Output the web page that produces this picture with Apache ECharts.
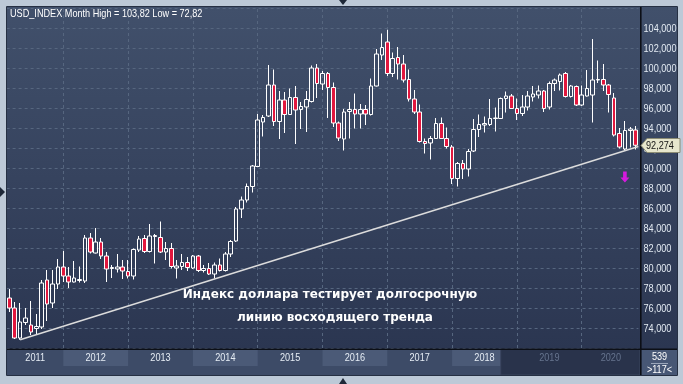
<!DOCTYPE html>
<html><head><meta charset="utf-8">
<script src="https://cdn.jsdelivr.net/npm/echarts@6/dist/echarts.min.js"></script>
<style>html,body{margin:0;padding:0;background:#bdc9d7;overflow:hidden}#c{width:683px;height:384px}</style>
</head><body><div id="c"></div>
<script>
// ---- data ----
const categories = [
 '2011-03','2011-04','2011-05','2011-06','2011-07','2011-08','2011-09','2011-10','2011-11','2011-12',
 '2012-01','2012-02','2012-03','2012-04','2012-05','2012-06','2012-07','2012-08','2012-09','2012-10','2012-11','2012-12',
 '2013-01','2013-02','2013-03','2013-04','2013-05','2013-06','2013-07','2013-08','2013-09','2013-10','2013-11','2013-12',
 '2014-01','2014-02','2014-03','2014-04','2014-05','2014-06','2014-07','2014-08','2014-09','2014-10','2014-11','2014-12',
 '2015-01','2015-02','2015-03','2015-04','2015-05','2015-06','2015-07','2015-08','2015-09','2015-10','2015-11','2015-12',
 '2016-01','2016-02','2016-03','2016-04','2016-05','2016-06','2016-07','2016-08','2016-09','2016-10','2016-11','2016-12',
 '2017-01','2017-02','2017-03','2017-04','2017-05','2017-06','2017-07','2017-08','2017-09','2017-10','2017-11','2017-12',
 '2018-01','2018-02','2018-03','2018-04','2018-05','2018-06','2018-07','2018-08','2018-09','2018-10','2018-11','2018-12',
 '2019-01','2019-02','2019-03','2019-04','2019-05','2019-06','2019-07','2019-08','2019-09','2019-10','2019-11','2019-12',
 '2020-01','2020-02','2020-03','2020-04','2020-05','2020-06','2020-07','2020-08','2020-09','2020-10','2020-11'
];
const opens = [
 77.0, 76.0, 73.0, 74.55, 74.3, 73.95, 74.1, 78.8, 76.5, 78.4,
 80.1, 79.2, 78.6, 78.75, 78.7, 83.0, 81.5, 82.6, 81.2, 79.95, 79.9, 80.1,
 79.65, 79.2, 81.8, 82.95, 81.65, 83.15, 83.05, 81.6, 81.95, 80.0, 80.15, 80.55,
 80.0, 81.2, 79.75, 79.95, 79.4, 80.3, 79.75, 81.4, 82.7, 85.9, 86.8, 88.15,
 90.15, 94.6, 95.2, 98.3, 94.65, 96.8, 95.35, 97.05, 95.85, 96.1, 96.65, 100.0,
 98.4, 99.45, 98.05, 94.5, 92.9, 95.65, 95.85, 95.4, 95.85, 95.35, 98.2, 101.3,
 102.6, 99.45, 101.05, 100.4, 98.85, 96.9, 95.6, 92.65, 92.5, 92.95, 94.45, 92.95,
 92.1, 88.95, 90.45, 89.9, 91.7, 93.85, 94.3, 94.35, 94.95, 94.95, 96.95, 97.2,
 95.95, 95.45, 96.1, 97.1, 97.3, 97.7, 96.1, 98.45, 98.65, 99.45, 97.15, 98.15,
 96.3, 97.2, 97.3, 98.8, 98.85, 98.3, 97.0, 93.45, 91.9, 93.75, 93.8
];
const closes = [
 76.0, 73.0, 74.6, 75.0, 73.6, 74.15, 78.5, 76.4, 78.4, 80.1,
 79.2, 78.6, 79.0, 78.85, 83.0, 81.6, 82.6, 81.2, 79.9, 80.05, 80.1, 79.7,
 79.2, 81.85, 82.9, 81.65, 83.2, 83.25, 81.6, 81.95, 80.15, 80.2, 80.55, 80.05,
 81.2, 79.75, 79.95, 79.4, 80.3, 79.75, 81.4, 82.65, 85.9, 86.8, 88.15, 90.2,
 94.8, 95.05, 98.3, 94.65, 96.8, 95.35, 97.05, 95.8, 96.15, 96.85, 100.0, 98.45,
 99.45, 98.05, 94.5, 93.0, 95.6, 95.85, 95.4, 95.85, 95.4, 98.2, 101.4, 102.05,
 99.45, 100.95, 100.4, 98.8, 96.9, 95.6, 92.65, 92.45, 92.95, 94.45, 92.95, 92.15,
 88.95, 90.45, 89.9, 91.65, 93.85, 94.35, 94.45, 94.95, 95.0, 96.95, 97.2, 95.95,
 95.45, 96.1, 97.2, 97.4, 97.7, 95.95, 98.45, 98.8, 99.3, 97.15, 98.2, 96.3,
 97.3, 97.95, 98.8, 98.85, 98.3, 97.35, 93.3, 92.1, 93.75, 93.9, 92.274
];
const highs = [
 77.9, 76.6, 76.5, 76.0, 76.7, 75.4, 78.8, 79.8, 79.8, 80.9,
 81.7, 80.1, 80.7, 80.15, 83.3, 83.5, 84.0, 83.0, 81.6, 80.3, 81.4, 80.8,
 80.8, 81.95, 83.2, 83.3, 84.4, 83.4, 84.65, 82.6, 82.5, 80.8, 81.4, 81.1,
 81.3, 81.3, 80.3, 80.5, 80.55, 80.95, 81.6, 82.8, 86.1, 87.15, 88.45, 90.3,
 95.4, 95.3, 100.3, 99.85, 97.7, 97.6, 97.95, 98.2, 96.6, 97.7, 100.25, 100.4,
 99.7, 99.6, 98.55, 94.65, 95.9, 96.6, 97.45, 96.4, 96.3, 98.95, 101.9, 103.45,
 103.82, 101.55, 102.1, 101.3, 99.85, 97.8, 96.35, 92.95, 93.2, 95.0, 95.05, 94.05,
 92.3, 90.6, 90.8, 91.9, 94.9, 95.35, 95.15, 96.9, 96.05, 97.05, 97.65, 97.4,
 96.95, 97.3, 97.7, 98.2, 98.25, 97.8, 98.65, 98.95, 99.45, 99.6, 98.3, 98.25,
 98.25, 99.8, 102.9, 100.75, 100.4, 98.4, 97.5, 94.0, 94.7, 94.1, 94.2
];
const lows = [
 75.6, 72.9, 72.82, 74.3, 73.3, 73.3, 73.9, 74.7, 76.0, 77.9,
 78.6, 78.0, 78.55, 78.55, 78.5, 81.45, 81.45, 80.9, 78.6, 79.0, 79.55, 78.9,
 78.95, 78.85, 81.6, 81.5, 81.55, 80.45, 81.5, 80.8, 79.95, 78.95, 79.8, 79.7,
 79.9, 79.6, 79.55, 79.3, 78.95, 79.65, 79.65, 81.1, 82.6, 85.0, 86.55, 87.55,
 90.1, 93.15, 95.1, 94.2, 92.9, 93.5, 95.3, 92.4, 93.9, 93.6, 96.55, 97.0,
 97.8, 95.0, 94.1, 92.7, 91.75, 92.95, 93.95, 93.95, 94.3, 95.25, 98.15, 100.8,
 99.2, 99.1, 98.85, 98.55, 96.65, 95.4, 92.55, 91.45, 90.85, 92.9, 92.9, 91.95,
 88.4, 88.15, 88.9, 89.15, 91.6, 93.1, 93.55, 94.2, 93.65, 94.9, 95.55, 95.9,
 94.8, 95.2, 95.75, 96.65, 96.95, 95.6, 95.85, 97.7, 97.75, 97.05, 97.05, 96.2,
 96.2, 97.15, 94.55, 98.5, 97.7, 95.55, 93.15, 91.95, 91.75, 92.05, 91.85
];
// trend line: bar index (0 = first category) and value
const trendX = [2, 116.5];
const trendY = [72.82, 92.15];
// signal arrow
const signalMonth = ['2020-09'];
const signalValue = [89.1];
const yTicks = [74, 76, 78, 80, 82, 84, 86, 88, 90, 92, 94, 96, 98, 100, 102, 104];
const yearLabels = ['2011','2012','2013','2014','2015','2016','2017','2018','2019','2020'];
const yearStarts = ['2011-01','2012-01','2013-01','2014-01','2015-01','2016-01','2017-01','2018-01','2019-01','2020-01'];
const dimFrom = '2018-10';
const lastPrice = 92.274;
const titleText = 'USD_INDEX Month High = 103,82 Low = 72,82';
const noteLines = ['Индекс доллара тестирует долгосрочную', 'линию восходящего тренда'];
const barsTotal = '539';
const barsVisible = '>117<';

// ---- chart ----
const SANS = "'Liberation Sans',Arial,sans-serif";
const SQUEEZE = 0.83;
const chart = echarts.init(document.getElementById('c'), null, {renderer: 'canvas'});
const gridLeft = 6.6, gridRight = 683 - 638.4, gridTop = 8, gridBottom = 384 - 348;

const option = {
  animation: false,
  backgroundColor: 'transparent',
  grid: {left: gridLeft, right: gridRight, top: gridTop, bottom: gridBottom, containLabel: false},
  xAxis: [
    {type: 'category', data: categories, boundaryGap: true, show: false},
    {type: 'value', min: -0.5, max: categories.length - 0.5, show: false}
  ],
  yAxis: {
    type: 'value', position: 'right', min: 72, max: 106, interval: 2,
    axisLine: {show: false}, axisTick: {show: false}, axisLabel: {show: false},
    splitLine: {show: true, lineStyle: {color: '#56667f', type: [3, 3], width: 1}}
  },
  series: [
    {
      type: 'candlestick',
      data: categories.map((c, i) => [opens[i], closes[i], lows[i], highs[i]]),
      barWidth: 4,
      z: 3,
      itemStyle: {
        color: 'rgba(0,0,0,0)', color0: '#e1173e',
        borderColor: '#ffffff', borderColor0: '#ffffff', borderWidth: 1
      },
      markLine: {
        silent: true, symbol: 'none', z: 1, animation: false,
        label: {show: false},
        lineStyle: {color: '#56667f', type: [3, 3], width: 1},
        data: yearStarts.slice(1).map(m => ({xAxis: m}))
      }
    },
    {
      type: 'line', xAxisIndex: 1, z: 4,
      data: trendX.map((x, i) => [x, trendY[i]]),
      symbol: 'none', silent: true,
      lineStyle: {color: '#dcdcdc', width: 1.5}
    },
    {
      type: 'scatter', z: 5, silent: true,
      data: signalMonth.map((m, i) => [m, signalValue[i]]),
      symbol: 'path://M3,0 L7,0 L7,6 L10,6 L5,11 L0,6 L3,6 Z',
      symbolSize: [9, 11],
      itemStyle: {color: '#ff10ff'}
    }
  ]
};
chart.setOption(option);

// ---- frame, axis strip and labels placed with the chart's own scales ----
const xOf = c => chart.convertToPixel({xAxisIndex: 0}, c);
const yOf = v => chart.convertToPixel({yAxisIndex: 0}, v);
const PANEL_L = 7, PANEL_T = 7, PANEL_R = 677, PLOT_B = 349, STRIP_B = 375, AXIS_X = 640;
const g = [];
function narrowText(txt, x, y, align, fill, z, size) {
  return {type: 'text', z: z, silent: true, x: x, y: y, scaleX: SQUEEZE,
    style: {text: txt, x: 0, y: 0, align: align, verticalAlign: 'middle', fill: fill,
      fontSize: size || 11, fontFamily: SANS}};
}
// dark panel
g.push({type: 'rect', z: -100, silent: true,
  shape: {x: PANEL_L, y: PANEL_T, width: PANEL_R - PANEL_L, height: PLOT_B - PANEL_T},
  style: {fill: new echarts.graphic.LinearGradient(0, 0, 0, 1, [
    {offset: 0, color: '#41506b'}, {offset: 1, color: '#2b3651'}])}});
// title
g.push(narrowText(titleText, 10, 13.5, 'left', '#ffffff', 45));
// y tick labels
yTicks.forEach(v => g.push(narrowText(v.toFixed(3).replace('.', ','), 643.5, Math.round(yOf(v)) + 0.5, 'left', '#e4ebf3', 45)));
// bottom strip
g.push({type: 'rect', z: 50, silent: true,
  shape: {x: PANEL_L, y: PLOT_B, width: AXIS_X - PANEL_L, height: STRIP_B - PLOT_B},
  style: {fill: '#3d4b67'}});
const monthW = xOf(categories[1]) - xOf(categories[0]);
const firstX = xOf(categories[0]) - 2 * monthW; // Jan 2011 centre
const bands = yearLabels.map((y, i) => {
  let s = i === 0 ? firstX : xOf(yearStarts[i]);
  let e = i < yearLabels.length - 1 ? xOf(yearStarts[i + 1]) : AXIS_X;
  return {y, s, e};
});
const dimX = xOf(dimFrom);
bands.forEach((b, i) => {
  const s = Math.max(b.s, PANEL_L), e = Math.min(b.e, AXIS_X);
  if (i % 2 === 1) {
    g.push({type: 'rect', z: 51, silent: true,
      shape: {x: s, y: 350, width: e - s, height: 16}, style: {fill: '#4b5a77'}});
  }
});
g.push({type: 'rect', z: 52, silent: true,
  shape: {x: dimX, y: PLOT_B, width: AXIS_X - dimX, height: STRIP_B - PLOT_B},
  style: {fill: '#29334b', stroke: '#3a465f', lineWidth: 1}});
bands.forEach(b => {
  const s = Math.max(b.s, PANEL_L), e = Math.min(b.e, AXIS_X);
  const dim = s >= dimX;
  g.push(narrowText(b.y, (s + e) / 2, 357.5, 'center', dim ? '#66748e' : '#e6edf5', 53));
});
// right bottom box
g.push({type: 'rect', z: 50, silent: true,
  shape: {x: AXIS_X, y: PLOT_B, width: PANEL_R - AXIS_X, height: STRIP_B - PLOT_B},
  style: {fill: '#475775'}});
g.push(narrowText(barsTotal, 659.5, 357, 'center', '#ffffff', 53));
g.push({type: 'line', z: 53, silent: true,
  shape: {x1: 651, y1: 363.5, x2: 668, y2: 363.5}, style: {stroke: '#9aa6ba', lineWidth: 1}});
g.push(narrowText(barsVisible, 659.5, 369.5, 'center', '#ffffff', 53));
// black separators
g.push({type: 'rect', z: 60, silent: true, shape: {x: PANEL_L, y: 348.5, width: PANEL_R - PANEL_L, height: 1.5}, style: {fill: '#0c0f16'}});
g.push({type: 'rect', z: 60, silent: true, shape: {x: AXIS_X, y: PANEL_T, width: 1.6, height: STRIP_B - PANEL_T}, style: {fill: '#0c0f16'}});
// panel outline and outer frame masks
g.push({type: 'rect', z: 70, silent: true, shape: {x: 0, y: 0, width: PANEL_L, height: 384}, style: {fill: '#bdc9d7'}});
g.push({type: 'rect', z: 70, silent: true, shape: {x: PANEL_L - 0.5, y: PANEL_T - 0.5, width: PANEL_R - PANEL_L + 1, height: STRIP_B - PANEL_T + 1},
  style: {fill: null, stroke: '#263043', lineWidth: 1}});
// frame arrows
g.push({type: 'polygon', z: 70, silent: true, shape: {points: [[339, 0], [347, 0], [343, 5]]}, style: {fill: '#1e2838'}});
g.push({type: 'polygon', z: 70, silent: true, shape: {points: [[339, 384], [347, 384], [343, 378]]}, style: {fill: '#1e2838'}});
g.push({type: 'polygon', z: 70, silent: true, shape: {points: [[0, 187], [0, 197], [5, 192]]}, style: {fill: '#1e2838'}});
// last price tag
const py = Math.round(yOf(lastPrice)) + 0.5;
g.push({type: 'polygon', z: 80, silent: true,
  shape: {points: [[641, py], [647, py - 7], [680, py - 7], [680, py + 7], [647, py + 7]]},
  style: {fill: '#e6e6cd', stroke: '#8c8c74', lineWidth: 1}});
g.push(narrowText(lastPrice.toFixed(3).replace('.', ','), 646, py, 'left', '#141414', 81));
// annotation
g.push({type: 'text', z: 40, silent: true,
  style: {text: noteLines[0], x: 330, y: 295, align: 'center', verticalAlign: 'middle', fill: '#ffffff', fontSize: 12, fontWeight: 'bold', fontFamily: "'DejaVu Sans',sans-serif"}});
g.push({type: 'text', z: 40, silent: true,
  style: {text: noteLines[1], x: 335, y: 318, align: 'center', verticalAlign: 'middle', fill: '#ffffff', fontSize: 12, fontWeight: 'bold', fontFamily: "'DejaVu Sans',sans-serif"}});

chart.setOption({graphic: {elements: g}});
</script>
</body></html>
